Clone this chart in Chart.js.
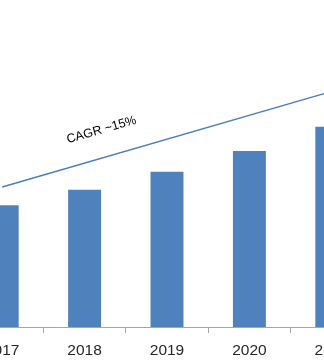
<!DOCTYPE html>
<html><head><meta charset="utf-8">
<script src="https://cdn.jsdelivr.net/npm/chart.js@4/dist/chart.umd.min.js"></script>
<style>
html,body{margin:0;padding:0;background:#fff;overflow:hidden;width:324px;height:361px;}
#wrap{position:absolute;left:-39.5px;top:0;width:412px;height:361px;}
</style></head>
<body>
<div id="wrap"><canvas id="c"></canvas></div>
<script>
const categories = ['2017','2018','2019','2020','2021'];
const marketValues = [12.17, 13.73, 15.53, 17.6, 20.03];
const trendValues = [14.0, null, null, null, 23.56];
const annotationText = 'CAGR ~15%';

const cagrLabel = {
  id: 'cagrLabel',
  afterDatasetsDraw(chart) {
    const ctx = chart.ctx;
    const x = chart.scales.x, y = chart.scales.y;
    const x0 = x.getPixelForValue(0), y0 = y.getPixelForValue(trendValues[0]);
    const x1 = x.getPixelForValue(4), y1 = y.getPixelForValue(trendValues[4]);
    const ang = Math.atan2(y1 - y0, x1 - x0);
    ctx.save();
    ctx.translate(140.5, 130);
    ctx.rotate(ang);
    ctx.font = '12.5px "Liberation Sans", Arial, sans-serif';
    ctx.fillStyle = '#000';
    ctx.textAlign = 'center';
    ctx.textBaseline = 'middle';
    ctx.fillText(annotationText, 0, 0);
    ctx.restore();
  }
};

new Chart(document.getElementById('c'), {
  data: {
    labels: categories,
    datasets: [
      { type: 'line', data: trendValues, spanGaps: true, borderColor: '#4a7ebb', borderWidth: 1.5,
        pointRadius: 0, fill: false, tension: 0, order: 0 },
      { type: 'bar', data: marketValues, backgroundColor: '#4f81bd', borderWidth: 0,
        categoryPercentage: 1.0, barPercentage: 0.4, order: 1 }
    ]
  },
  options: {
    responsive: true, maintainAspectRatio: false, animation: false,
    layout: { padding: 0 },
    plugins: { legend: { display: false }, tooltip: { enabled: false } },
    scales: {
      x: {
        offset: true,
        grid: { offset: true, drawOnChartArea: false, drawTicks: true, tickLength: 6, color: '#a6a6a6' },
        border: { display: true, color: '#a6a6a6', width: 1 },
        ticks: { color: '#262626', padding: 8, font: { family: '"Liberation Sans", Arial, sans-serif', size: 15.5 } },
        afterFit(s) { s.height = 34; }
      },
      y: { display: false, min: 0, max: 32.7 }
    }
  },
  plugins: [cagrLabel]
});
</script>
</body></html>
